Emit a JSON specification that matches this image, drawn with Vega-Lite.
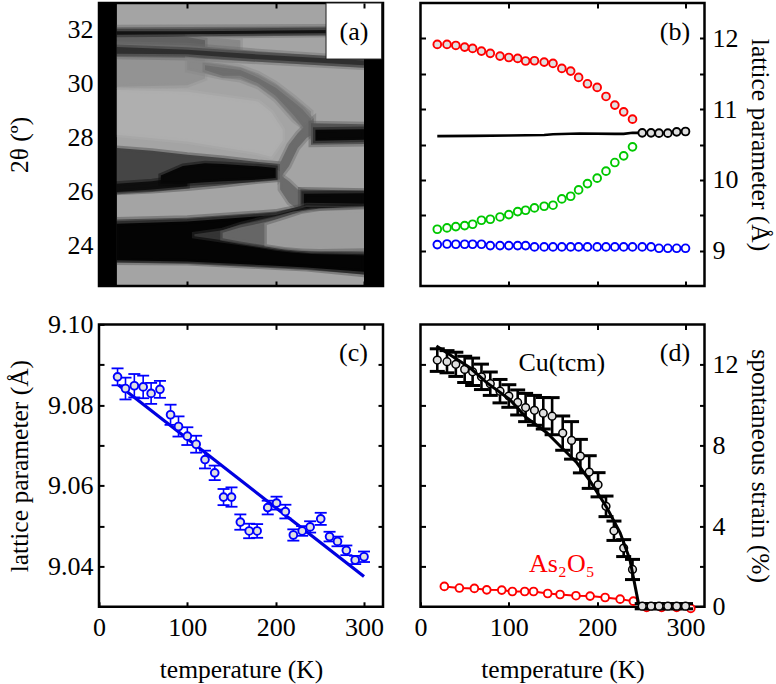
{"$schema":"https://vega.github.io/schema/vega-lite/v6.json","padding":{"left":5,"top":0,"right":8,"bottom":8},"background":"white","columns":2,"bounds":"flush","spacing":{"column":37.5,"row":38.4},"config":{"axis":{"labelFont":"Liberation Serif","titleFont":"Liberation Serif","labelFontSize":26,"titleFontSize":25.5,"titleFontWeight":"normal","labelColor":"black","titleColor":"black","tickColor":"black","tickWidth":2,"tickSize":-5,"domain":false,"grid":false,"labelOverlap":false,"labelFlush":false,"titleBaseline":"middle"},"text":{"font":"Liberation Serif","fontSize":26,"baseline":"middle"}},"concat":[
{"width":284,"height":283,"view":{"fill":"black","stroke":"black","strokeWidth":2.5},"resolve":{"axis":{"x":"independent","y":"independent"}},"encoding":{"x":{"field":"t","type":"quantitative","scale":{"domain":[0,321.5],"nice":false},"axis":null},"y":{"field":"v","type":"quantitative","scale":{"domain":[22.5,33],"nice":false},"axis":null}},"layer":[
{"data":{"values":[{"g":172,"t":20,"v":32.95,"v2":22.55},{"g":172,"t":300,"v":32.95,"v2":22.55}]},"mark":{"type":"area","orient":"vertical"},"encoding":{"x":{"field":"t","type":"quantitative","scale":{"domain":[0,321.5],"nice":false},"axis":{"orient":"bottom","values":[100,200,300],"labels":false,"title":null,"zindex":1}},"y":{"field":"v","type":"quantitative","scale":{"domain":[22.5,33],"nice":false},"axis":{"orient":"left","values":[24,26,28,30,32],"labelPadding":11,"title":"2θ (º)","titleX":-80,"titleY":141.5,"zindex":1}},"y2":{"field":"v2"},"color":{"field":"g","type":"quantitative","scale":{"domain":[0,255],"range":["#000000","#ffffff"]},"legend":null}}},
{"data":{"values":[
{"b":2,"g":110,"t":20,"v":32.1,"v2":31.74},{"b":2,"g":110,"t":300,"v":32.14,"v2":31.83},
{"b":3,"g":145,"t":100,"v":31.8,"v2":31.37},{"b":3,"g":145,"t":160,"v":31.62,"v2":31.19},
{"b":4,"g":105,"t":20,"v":31.8,"v2":31.43},{"b":4,"g":105,"t":60,"v":31.8,"v2":31.41},{"b":4,"g":105,"t":100,"v":31.74,"v2":31.37},{"b":4,"g":105,"t":120,"v":31.62,"v2":31.37},
{"b":5,"g":15,"t":20,"v":31.95,"v2":31.82},{"b":5,"g":15,"t":100,"v":31.95,"v2":31.84},{"b":5,"g":15,"t":200,"v":31.98,"v2":31.87},{"b":5,"g":15,"t":300,"v":32.01,"v2":31.89},
{"b":8,"g":155,"t":20,"v":31,"v2":29.89},{"b":8,"g":155,"t":100,"v":31,"v2":29.95},{"b":8,"g":155,"t":120,"v":30.94,"v2":30.2},
{"b":6,"g":115,"t":20,"v":31.49,"v2":31},{"b":6,"g":115,"t":100,"v":31.43,"v2":30.96},{"b":6,"g":115,"t":180,"v":31.21,"v2":30.82},{"b":6,"g":115,"t":300,"v":30.94,"v2":30.6},
{"b":7,"g":50,"t":20,"v":31.37,"v2":31.12},{"b":7,"g":50,"t":100,"v":31.27,"v2":31.1},{"b":7,"g":50,"t":180,"v":31.09,"v2":30.91},{"b":7,"g":50,"t":300,"v":30.87,"v2":30.69},
{"b":9,"g":145,"t":100,"v":30.91,"v2":30.51},{"b":9,"g":145,"t":140,"v":30.75,"v2":30.23},{"b":9,"g":145,"t":160,"v":30.63,"v2":30.14},{"b":9,"g":145,"t":180,"v":30.39,"v2":29.89},{"b":9,"g":145,"t":200,"v":30.02,"v2":29.4},{"b":9,"g":145,"t":220,"v":29.52,"v2":28.66},{"b":9,"g":145,"t":240,"v":28.97,"v2":28.17},
{"b":10,"g":118,"t":120,"v":30.69,"v2":30.51},{"b":10,"g":118,"t":140,"v":30.6,"v2":30.3},{"b":10,"g":118,"t":160,"v":30.51,"v2":30.3},{"b":10,"g":118,"t":180,"v":30.23,"v2":30.02},{"b":10,"g":118,"t":200,"v":29.86,"v2":29.56},{"b":10,"g":118,"t":220,"v":29.34,"v2":28.85},{"b":10,"g":118,"t":230,"v":29.07,"v2":28.45},{"b":10,"g":118,"t":240,"v":28.7,"v2":28.05},
{"b":11,"g":182,"t":20,"v":29.77,"v2":28.11},{"b":11,"g":182,"t":100,"v":29.71,"v2":27.86},{"b":11,"g":182,"t":180,"v":29.34,"v2":27.43},{"b":11,"g":182,"t":195,"v":28.95,"v2":27.3},{"b":11,"g":182,"t":208,"v":28.3,"v2":27.9},
{"b":12,"g":75,"t":20,"v":27.62,"v2":25.96},{"b":12,"g":75,"t":60,"v":27.52,"v2":26.02},{"b":12,"g":75,"t":100,"v":27.37,"v2":26.12},{"b":12,"g":75,"t":140,"v":27.25,"v2":26.24},{"b":12,"g":75,"t":180,"v":27.1,"v2":26.39},{"b":12,"g":75,"t":205,"v":27.03,"v2":26.45},
{"b":13,"g":10,"t":20,"v":26.29,"v2":25.99},{"b":13,"g":10,"t":60,"v":26.39,"v2":26.08},{"b":13,"g":10,"t":100,"v":26.57,"v2":26.2},
{"b":14,"g":5,"t":70,"v":26.6,"v2":26.3},{"b":14,"g":5,"t":95,"v":26.95,"v2":26.29},{"b":14,"g":5,"t":120,"v":27.05,"v2":26.35},{"b":14,"g":5,"t":140,"v":27.03,"v2":26.39},{"b":14,"g":5,"t":180,"v":26.94,"v2":26.45},{"b":14,"g":5,"t":200,"v":26.88,"v2":26.51},
{"b":15,"g":115,"t":205,"v":27.06,"v2":26.51},{"b":15,"g":115,"t":215,"v":27.74,"v2":26.94},{"b":15,"g":115,"t":225,"v":28.17,"v2":27.62},{"b":15,"g":115,"t":235,"v":28.5,"v2":27.99},{"b":15,"g":115,"t":243,"v":28.72,"v2":28.17},
{"b":16,"g":115,"t":205,"v":26.63,"v2":26.08},{"b":16,"g":115,"t":215,"v":26.39,"v2":25.59},{"b":16,"g":115,"t":225,"v":26.08,"v2":25.34},{"b":16,"g":115,"t":235,"v":25.99,"v2":25.3},
{"b":17,"g":90,"t":240,"v":28.54,"v2":27.74},{"b":17,"g":90,"t":300,"v":28.5,"v2":27.77},
{"b":18,"g":5,"t":245,"v":28.3,"v2":27.89},{"b":18,"g":5,"t":300,"v":28.32,"v2":27.93},
{"b":19,"g":70,"t":228,"v":26.08,"v2":25.34},{"b":19,"g":70,"t":300,"v":26.04,"v2":25.4},
{"b":20,"g":5,"t":232,"v":25.92,"v2":25.43},{"b":20,"g":5,"t":300,"v":25.94,"v2":25.45},
{"b":21,"g":80,"t":20,"v":24.97,"v2":23.37},{"b":21,"g":80,"t":100,"v":25.03,"v2":23.35},{"b":21,"g":80,"t":200,"v":25.26,"v2":23.19},{"b":21,"g":80,"t":235,"v":25.5,"v2":23.13},{"b":21,"g":80,"t":300,"v":25.46,"v2":22.92},
{"b":22,"g":3,"t":20,"v":24.81,"v2":23.46},{"b":22,"g":3,"t":100,"v":24.89,"v2":23.41},{"b":22,"g":3,"t":200,"v":25.13,"v2":23.25},{"b":22,"g":3,"t":235,"v":25.43,"v2":23.19},{"b":22,"g":3,"t":300,"v":25.43,"v2":23.03},
{"b":23,"g":55,"t":108,"v":24.42,"v2":24.35},{"b":23,"g":55,"t":140,"v":24.57,"v2":24.2},{"b":23,"g":55,"t":160,"v":24.79,"v2":24.1},{"b":23,"g":55,"t":180,"v":24.95,"v2":24.01},{"b":23,"g":55,"t":200,"v":25.1,"v2":23.9},{"b":23,"g":55,"t":220,"v":25.26,"v2":23.83},{"b":23,"g":55,"t":240,"v":25.34,"v2":23.78},{"b":23,"g":55,"t":300,"v":25.4,"v2":23.73},
{"b":24,"g":110,"t":140,"v":24.48,"v2":24.27},{"b":24,"g":110,"t":160,"v":24.67,"v2":24.15},{"b":24,"g":110,"t":180,"v":24.81,"v2":24.05},{"b":24,"g":110,"t":200,"v":24.97,"v2":23.95},{"b":24,"g":110,"t":220,"v":25.16,"v2":23.87},{"b":24,"g":110,"t":240,"v":25.28,"v2":23.81},{"b":24,"g":110,"t":300,"v":25.37,"v2":23.77},
{"b":25,"g":165,"t":190,"v":24.76,"v2":24.05},{"b":25,"g":165,"t":210,"v":24.97,"v2":23.95},{"b":25,"g":165,"t":230,"v":25.18,"v2":23.89},{"b":25,"g":165,"t":250,"v":25.28,"v2":23.87},{"b":25,"g":165,"t":300,"v":25.34,"v2":23.9}
]},"mark":{"type":"area","orient":"vertical","strokeWidth":5,"strokeOpacity":0.42},"encoding":{"y2":{"field":"v2"},"detail":{"field":"b","type":"nominal"},"color":{"field":"g","type":"quantitative","scale":{"domain":[0,255],"range":["#000000","#ffffff"]},"legend":null},"stroke":{"field":"g","type":"quantitative","scale":{"domain":[0,255],"range":["#000000","#ffffff"]},"legend":null}}},
{"data":{"values":[{"t":0,"t2":20,"v":33,"v2":22.5},{"t":300,"t2":321.5,"v":33,"v2":22.5}]},"mark":{"type":"rect","fill":"black"},"encoding":{"x2":{"field":"t2"},"y2":{"field":"v2"}}},
{"data":{"values":[{"t":257,"t2":320,"v":33,"v2":30.92}]},"mark":{"type":"rect","fill":"white","stroke":"#222222","strokeWidth":1},"encoding":{"x":{"field":"t","type":"quantitative","scale":{"domain":[0,321.5],"nice":false},"axis":{"orient":"top","values":[100,200,300],"labels":false,"title":null,"zindex":1}},"x2":{"field":"t2"},"y":{"field":"v","type":"quantitative","scale":{"domain":[22.5,33],"nice":false},"axis":{"orient":"right","values":[24,26,28,30,32],"labels":false,"title":null}},"y2":{"field":"v2"}}},
{"data":{"values":[{"t":288.7,"v":31.92,"s":"(a)"}]},"mark":{"type":"text"},"encoding":{"text":{"field":"s"}}}
]},
{"width":284,"height":283,"view":{"stroke":"black","strokeWidth":2.5},"resolve":{"axis":{"x":"independent","y":"independent"}},"encoding":{"x":{"field":"t","type":"quantitative","scale":{"domain":[0,321.5],"nice":false},"axis":null},"y":{"field":"v","type":"quantitative","scale":{"domain":[8.5,12.5],"nice":false},"axis":null}},"layer":[
{"data":{"values":[{"t":19,"v":10.618},{"t":60,"v":10.622},{"t":100,"v":10.627},{"t":140,"v":10.635},{"t":150,"v":10.645},{"t":180,"v":10.655},{"t":220,"v":10.65},{"t":230,"v":10.65},{"t":240,"v":10.665},{"t":251,"v":10.665}]},"mark":{"type":"line","color":"black","strokeWidth":2.6},"encoding":{"x":{"field":"t","type":"quantitative","scale":{"domain":[0,321.5],"nice":false},"axis":{"orient":"bottom","values":[100,200,300],"labels":false,"title":null}},"y":{"field":"v","type":"quantitative","scale":{"domain":[8.5,12.5],"nice":false},"axis":{"orient":"left","values":[9,9.5,10,10.5,11,11.5,12],"labels":false,"title":null}}}},
{"data":{"values":[{"t":19,"v":11.915},{"t":30,"v":11.915},{"t":40,"v":11.9},{"t":50,"v":11.877},{"t":59,"v":11.858},{"t":69,"v":11.82},{"t":79,"v":11.788},{"t":90,"v":11.75},{"t":100,"v":11.73},{"t":110,"v":11.717},{"t":119,"v":11.68},{"t":129,"v":11.684},{"t":140,"v":11.665},{"t":150,"v":11.646},{"t":160,"v":11.575},{"t":170,"v":11.538},{"t":179,"v":11.448},{"t":189,"v":11.358},{"t":200,"v":11.307},{"t":210,"v":11.179},{"t":220,"v":11.057},{"t":230,"v":10.962},{"t":240,"v":10.858}]},"mark":{"type":"point","shape":"circle","size":60,"filled":true,"fill":"#e0e0e0","stroke":"#ff0000","strokeWidth":1.9,"opacity":1},"encoding":{"x":{"field":"t","type":"quantitative","scale":{"domain":[0,321.5],"nice":false},"axis":{"orient":"top","values":[100,200,300],"labels":false,"title":null}},"y":{"field":"v","type":"quantitative","scale":{"domain":[8.5,12.5],"nice":false},"axis":{"orient":"right","values":[9,9.5,10,10.5,11,11.5,12],"labelExpr":"datum.value % 1 == 0 ? datum.value : ''","labelPadding":12.5,"title":"lattice parameter (Å)","titleX":55,"titleY":141.5}}}},
{"data":{"values":[{"t":19,"v":9.302},{"t":30,"v":9.321},{"t":40,"v":9.34},{"t":50,"v":9.354},{"t":59,"v":9.373},{"t":69,"v":9.429},{"t":79,"v":9.443},{"t":90,"v":9.476},{"t":100,"v":9.509},{"t":110,"v":9.552},{"t":119,"v":9.571},{"t":129,"v":9.604},{"t":140,"v":9.627},{"t":150,"v":9.642},{"t":160,"v":9.731},{"t":170,"v":9.769},{"t":179,"v":9.858},{"t":189,"v":9.948},{"t":200,"v":10.024},{"t":210,"v":10.123},{"t":220,"v":10.245},{"t":230,"v":10.34},{"t":240,"v":10.467}]},"mark":{"type":"point","shape":"circle","size":60,"filled":false,"stroke":"#00c800","strokeWidth":1.9,"opacity":1}},
{"data":{"values":[{"t":19,"v":9.085},{"t":30,"v":9.094},{"t":40,"v":9.09},{"t":50,"v":9.09},{"t":59,"v":9.09},{"t":69,"v":9.09},{"t":79,"v":9.071},{"t":90,"v":9.071},{"t":100,"v":9.071},{"t":110,"v":9.071},{"t":119,"v":9.071},{"t":129,"v":9.052},{"t":140,"v":9.052},{"t":150,"v":9.052},{"t":160,"v":9.052},{"t":170,"v":9.052},{"t":179,"v":9.052},{"t":189,"v":9.052},{"t":200,"v":9.052},{"t":210,"v":9.052},{"t":220,"v":9.052},{"t":230,"v":9.052},{"t":240,"v":9.052},{"t":251,"v":9.052},{"t":261,"v":9.052},{"t":270,"v":9.033},{"t":280,"v":9.033},{"t":290,"v":9.033},{"t":300,"v":9.033}]},"mark":{"type":"point","shape":"circle","size":60,"filled":false,"stroke":"#0000ff","strokeWidth":1.9,"opacity":1}},
{"data":{"values":[{"t":251,"v":10.665},{"t":261,"v":10.665},{"t":270,"v":10.66},{"t":280,"v":10.66},{"t":290,"v":10.679},{"t":300,"v":10.684}]},"mark":{"type":"point","shape":"circle","size":60,"filled":true,"fill":"#e0e0e0","stroke":"black","strokeWidth":1.9,"opacity":1}},
{"data":{"values":[{"t":288,"v":12.09,"s":"(b)"}]},"mark":{"type":"text"},"encoding":{"text":{"field":"s"}}}
]},
{"width":284,"height":282.4,"view":{"stroke":"black","strokeWidth":2.5},"resolve":{"axis":{"x":"independent","y":"independent"}},"encoding":{"x":{"field":"t","type":"quantitative","scale":{"domain":[0,321.5],"nice":false},"axis":null},"y":{"field":"v","type":"quantitative","scale":{"domain":[9.03,9.1],"nice":false},"axis":null}},"layer":[
{"data":{"values":[{"t":22,"v":9.085},{"t":300,"v":9.0375}]},"mark":{"type":"line","color":"#0000e0","strokeWidth":3.2},"encoding":{"x":{"field":"t","type":"quantitative","scale":{"domain":[0,321.5],"nice":false},"axis":{"orient":"bottom","values":[0,100,200,300],"labelPadding":13,"title":"temperature (K)","titleX":142,"titleY":63}},"y":{"field":"v","type":"quantitative","scale":{"domain":[9.03,9.1],"nice":false},"axis":{"orient":"left","values":[9.04,9.05,9.06,9.07,9.08,9.09,9.1],"labelExpr":"round(datum.value*100) % 2 == 0 ? format(datum.value,'.2f') : ''","labelPadding":11,"title":"lattice parameter (Å)","titleX":-80,"titleY":141.2}}}},
{"data":{"name":"c","values":[{"t":21,"v":9.087,"e":0.0021},{"t":30,"v":9.0841,"e":0.0027},{"t":40,"v":9.0848,"e":0.0029},{"t":50,"v":9.0845,"e":0.0028},{"t":59,"v":9.0829,"e":0.0026},{"t":69,"v":9.0839,"e":0.0021},{"t":81,"v":9.0776,"e":0.0025},{"t":90,"v":9.0747,"e":0.0025},{"t":100,"v":9.0723,"e":0.0022},{"t":110,"v":9.0703,"e":0.0021},{"t":120,"v":9.0665,"e":0.0022},{"t":131,"v":9.0632,"e":0.0018},{"t":141,"v":9.0572,"e":0.002},{"t":150,"v":9.0572,"e":0.0024},{"t":160,"v":9.051,"e":0.0019},{"t":170,"v":9.0488,"e":0.0018},{"t":179,"v":9.0488,"e":0.0017},{"t":191,"v":9.0546,"e":0.0017},{"t":201,"v":9.0557,"e":0.0016},{"t":211,"v":9.0536,"e":0.0017},{"t":220,"v":9.0478,"e":0.0014},{"t":230,"v":9.0488,"e":0.0012},{"t":239,"v":9.0498,"e":0.0014},{"t":251,"v":9.0518,"e":0.0015},{"t":261,"v":9.0474,"e":0.0012},{"t":270,"v":9.0462,"e":0.0012},{"t":280,"v":9.044,"e":0.0012},{"t":290,"v":9.0416,"e":0.001},{"t":300,"v":9.0424,"e":0.0013}]},"mark":{"type":"errorbar","ticks":{"size":12,"thickness":1.8,"color":"#0000ff","opacity":1},"rule":{"strokeWidth":1.6,"color":"#0000ff"}},"encoding":{"x":{"field":"t","type":"quantitative","scale":{"domain":[0,321.5],"nice":false},"axis":null},"y":{"field":"v","type":"quantitative","scale":{"domain":[9.03,9.1],"nice":false},"axis":null},"yError":{"field":"e"}}},
{"data":{"name":"c"},"mark":{"type":"point","shape":"circle","size":60,"filled":true,"fill":"#e0e0e0","stroke":"#0000ff","strokeWidth":1.9,"opacity":1},"encoding":{"x":{"field":"t","type":"quantitative","scale":{"domain":[0,321.5],"nice":false},"axis":{"orient":"top","values":[100,200,300],"labels":false,"title":null}},"y":{"field":"v","type":"quantitative","scale":{"domain":[9.03,9.1],"nice":false},"axis":{"orient":"right","values":[9.04,9.05,9.06,9.07,9.08,9.09],"labels":false,"title":null}}}},
{"data":{"values":[{"t":288,"v":9.093,"s":"(c)"}]},"mark":{"type":"text"},"encoding":{"text":{"field":"s"}}}
]},
{"width":284,"height":282.4,"view":{"stroke":"black","strokeWidth":2.5},"resolve":{"axis":{"x":"independent","y":"independent"}},"encoding":{"x":{"field":"t","type":"quantitative","scale":{"domain":[0,321.5],"nice":false},"axis":null},"y":{"field":"v","type":"quantitative","scale":{"domain":[0,14],"nice":false},"axis":null}},"layer":[
{"data":{"values":[{"t":27,"v":1.01},{"t":44,"v":0.93},{"t":61,"v":0.91},{"t":75,"v":0.84},{"t":92,"v":0.83},{"t":104,"v":0.76},{"t":118,"v":0.76},{"t":128,"v":0.76},{"t":144,"v":0.66},{"t":158,"v":0.61},{"t":176,"v":0.55},{"t":192,"v":0.53},{"t":209,"v":0.46},{"t":226,"v":0.38},{"t":241,"v":0.28},{"t":256,"v":-0.03},{"t":273,"v":-0.03},{"t":290,"v":-0.03},{"t":306,"v":-0.08}]},"mark":{"type":"line","color":"#ff0000","strokeWidth":2,"point":{"shape":"circle","size":60,"filled":true,"fill":"white","stroke":"#ff0000","strokeWidth":1.9,"opacity":1}},"encoding":{"x":{"field":"t","type":"quantitative","scale":{"domain":[0,321.5],"nice":false},"axis":{"orient":"bottom","values":[0,100,200,300],"labelPadding":13,"title":"temperature (K)","titleX":142,"titleY":63}},"y":{"field":"v","type":"quantitative","scale":{"domain":[0,14],"nice":false},"axis":{"orient":"left","values":[2,4,6,8,10,12],"labels":false,"title":null}}}},
{"data":{"name":"d","values":[{"t":19,"v":12.23,"e":0.56},{"t":30,"v":12.15,"e":0.55},{"t":40,"v":12.02,"e":0.6},{"t":50,"v":11.77,"e":0.65},{"t":59,"v":11.65,"e":0.68},{"t":69,"v":11.4,"e":0.63},{"t":79,"v":11.06,"e":0.58},{"t":90,"v":10.69,"e":0.58},{"t":100,"v":10.45,"e":0.56},{"t":110,"v":10.13,"e":0.62},{"t":119,"v":9.88,"e":0.7},{"t":129,"v":9.74,"e":0.74},{"t":139,"v":9.6,"e":0.78},{"t":149,"v":9.45,"e":0.92},{"t":161,"v":8.61,"e":0.85},{"t":171,"v":8.25,"e":0.93},{"t":181,"v":7.47,"e":0.83},{"t":191,"v":6.68,"e":0.81},{"t":201,"v":6.05,"e":0.6},{"t":210,"v":4.98,"e":0.51},{"t":219,"v":3.77,"e":0.48},{"t":230,"v":2.91,"e":0.42},{"t":240,"v":1.85,"e":0.5},{"t":251,"v":0.03,"e":0.13},{"t":261,"v":0.03,"e":0.13},{"t":270,"v":0.03,"e":0.13},{"t":280,"v":0.03,"e":0.13},{"t":290,"v":0.03,"e":0.13},{"t":300,"v":0.03,"e":0.13}]},"mark":{"type":"errorbar","ticks":{"size":15,"thickness":3,"color":"black","opacity":1},"rule":{"strokeWidth":2.6,"color":"black"}},"encoding":{"x":{"field":"t","type":"quantitative","scale":{"domain":[0,321.5],"nice":false},"axis":null},"y":{"field":"v","type":"quantitative","scale":{"domain":[0,14],"nice":false},"axis":null},"yError":{"field":"e"}}},
{"data":{"name":"d"},"mark":{"type":"point","shape":"circle","size":60,"filled":true,"fill":"#e0e0e0","stroke":"black","strokeWidth":1.5,"opacity":1},"encoding":{"x":{"field":"t","type":"quantitative","scale":{"domain":[0,321.5],"nice":false},"axis":{"orient":"top","values":[100,200,300],"labels":false,"title":null}},"y":{"field":"v","type":"quantitative","scale":{"domain":[0,14],"nice":false},"axis":{"orient":"right","values":[0,2,4,6,8,10,12],"labelExpr":"datum.value % 4 == 0 ? datum.value : ''","labelPadding":12.5,"title":"spontaneous strain (%)","titleX":55,"titleY":141.2}}}},
{"data":{"values":[{"t":18,"v":12.93},{"t":56,"v":11.85},{"t":75,"v":11.11},{"t":101,"v":10.28},{"t":120,"v":9.37},{"t":143,"v":8.63},{"t":158,"v":7.97},{"t":177,"v":7.14},{"t":192,"v":6.23},{"t":211,"v":4.91},{"t":226,"v":3.67},{"t":237,"v":2.35},{"t":247,"v":0.12}]},"mark":{"type":"line","color":"black","strokeWidth":3}},
{"data":{"values":[{"t":288,"v":12.6,"s":"(d)"}]},"mark":{"type":"text"},"encoding":{"text":{"field":"s"}}},
{"data":{"values":[{"t":160,"v":12.1,"s":"Cu(tcm)"}]},"mark":{"type":"text"},"encoding":{"text":{"field":"s"}}},
{"data":{"values":[{"t":160,"v":2.1,"s":"As₂O₅"}]},"mark":{"type":"text","color":"#ff0000"},"encoding":{"text":{"field":"s"}}}
]}
]}
